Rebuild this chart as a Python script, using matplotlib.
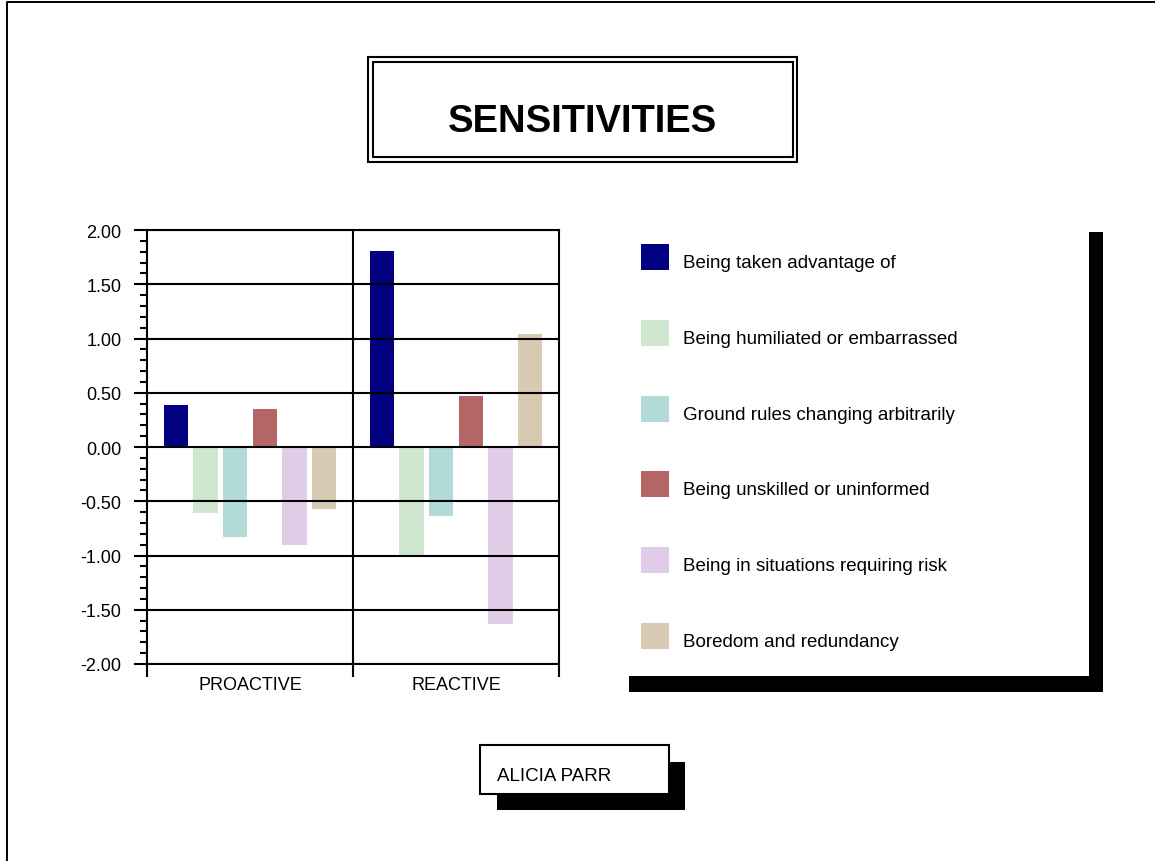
import matplotlib
matplotlib.use("Agg")
import matplotlib.pyplot as plt
from matplotlib.patches import Rectangle
from matplotlib.lines import Line2D
import numpy as np

plt.rcParams['font.family'] = ['Liberation Sans', 'DejaVu Sans']

grupos = ["PROACTIVE", "REACTIVE"]
rotulos = [
    "Being taken advantage of",
    "Being humiliated or embarrassed",
    "Ground rules changing arbitrarily",
    "Being unskilled or uninformed",
    "Being in situations requiring risk",
    "Boredom and redundancy",
]
cores = ["#000080", "#cfe6cf", "#b2dbd8", "#b46666", "#e0cce6", "#d8c9b2"]
proativo = [0.39, -0.61, -0.83, 0.35, -0.90, -0.57]
reativo = [1.81, -1.00, -0.64, 0.47, -1.63, 1.04]
valores = [proativo, reativo]
yticks = [-2.0, -1.5, -1.0, -0.5, 0.0, 0.5, 1.0, 1.5, 2.0]

W, H = 1155, 862
fig = plt.figure(figsize=(W / 100, H / 100), dpi=100)


def fx(x):
    return x / W


def fy(y):
    return 1 - y / H


def ret(x0, y0, x1, y1, **kw):
    # retangulo em pixels (origem em cima)
    fig.add_artist(Rectangle((fx(x0), fy(y1)), fx(x1) - fx(x0), fy(y0) - fy(y1),
                             transform=fig.transFigure, **kw))


# borda externa
fig.add_artist(Line2D([fx(7), fx(7), fx(W)], [fy(H), fy(3), fy(3)],
                      transform=fig.transFigure, color="black", lw=1.4))

# titulo com moldura dupla
ret(368, 58, 797, 163, fill=False, ec="black", lw=1.5)
ret(373, 63, 793, 158, fill=False, ec="black", lw=1.5)
fig.text(fx(582.5), fy(132), "SENSITIVITIES", ha="center", va="baseline",
         fontsize=27.5, fontweight="bold")

# grafico
ax = fig.add_axes([fx(147), fy(665), fx(559) - fx(147), fy(231) - fy(665)])
x = np.arange(len(grupos))
n = len(rotulos)
passo = 0.144
for i in range(n):
    vals = [v[i] for v in valores]
    ax.bar(x + (i - (n - 1) / 2) * passo, vals, width=0.117, color=cores[i],
           zorder=1)

for t in yticks:
    ax.axhline(t, color="black", lw=1.5, zorder=2)
ax.axvline(0.5, color="black", lw=1.5, zorder=2)

ax.set_xlim(-0.5, 1.5)
ax.set_ylim(-2, 2)
ax.set_yticks(yticks)
ax.set_yticklabels([f"{t:.2f}" for t in yticks])
ax.set_yticks(np.arange(-2, 2.01, 0.1), minor=True)
ax.set_xticks(x)
ax.set_xticklabels(grupos)
ax.set_xticks([-0.5, 0.5, 1.5], minor=True)
ax.tick_params(axis="y", which="major", length=9.4, width=1.5, pad=9,
               labelsize=13)
ax.tick_params(axis="y", which="minor", length=5, width=1.5)
ax.tick_params(axis="x", which="major", length=0, pad=9, labelsize=13)
ax.tick_params(axis="x", which="minor", length=9, width=1.5)
for s in ax.spines.values():
    s.set_linewidth(1.5)

# legenda com sombra
ret(1089, 233, 1103, 693, color="black", lw=0)
ret(629, 677, 1103, 693, color="black", lw=0)
for i, (lab, c) in enumerate(zip(rotulos, cores)):
    yc = 258 + i * 75.8
    ret(641, yc - 13, 669, yc + 13, color=c, lw=0)
    fig.text(fx(683), fy(yc + 10), lab, ha="left", va="baseline", fontsize=13.5)

# caixa do autor
ret(497, 763, 685, 811, color="black", lw=0)
ret(480, 746, 669, 795, facecolor="white", ec="black", lw=1.5)
fig.text(fx(497), fy(781), "ALICIA PARR", ha="left", va="baseline", fontsize=13.5)

fig.savefig("out.png", dpi=100)
